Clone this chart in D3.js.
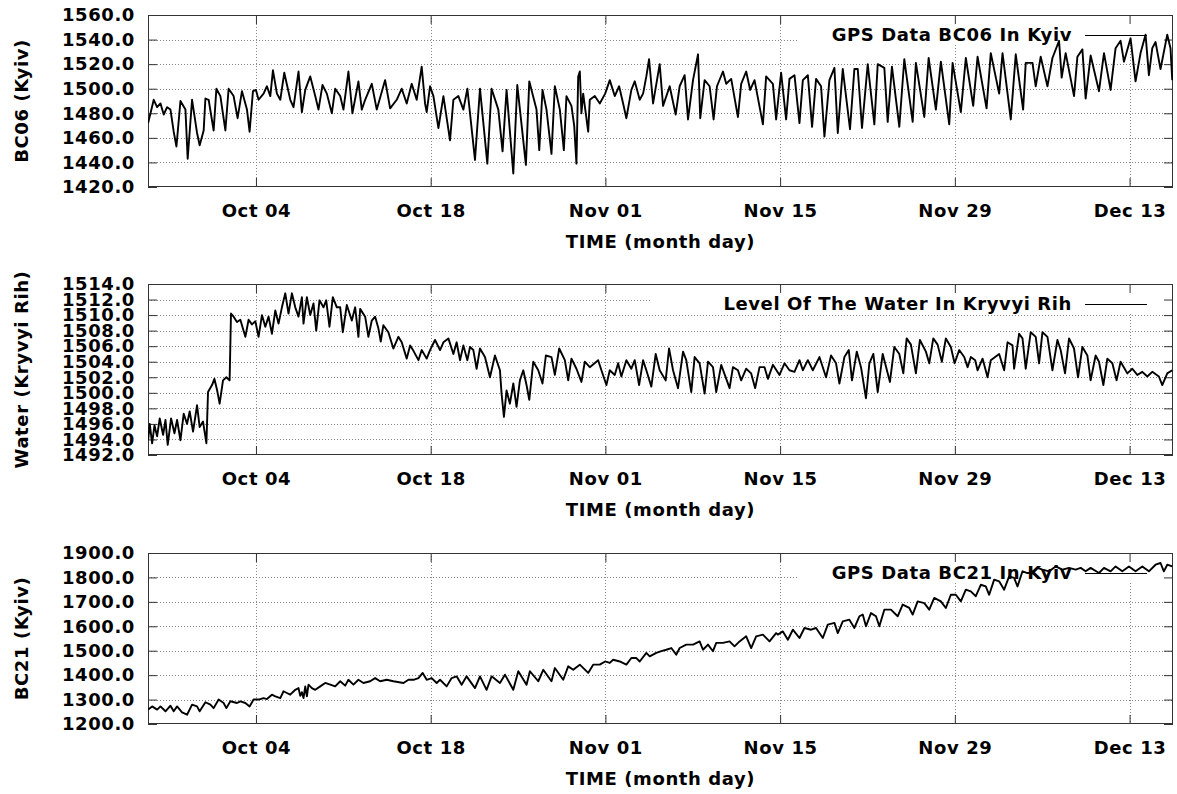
<!DOCTYPE html>
<html>
<head>
<meta charset="utf-8">
<script src="https://cdnjs.cloudflare.com/ajax/libs/d3/7.8.5/d3.min.js"></script>
<style>
  body { margin: 0; background: #fff; }
  svg text { font-family: "DejaVu Sans", sans-serif; font-weight: bold; fill: #000; letter-spacing: 0.6px; }
</style>
</head>
<body>
<script>
// x values are days since Sep 25 00:00 (UTC)
const start = Date.UTC(2021, 8, 25);
const shownDays = [0.35, 82.48];
const timeTicks = ["2021-10-04", "2021-10-18", "2021-11-01", "2021-11-15", "2021-11-29", "2021-12-13"];

// [day, value] (daily peaks / dips)
const bc06 = [[0.36,1472],[0.81,1491],[1.08,1485],[1.35,1488],[1.61,1479],[1.88,1485],[2.15,1483],[2.41,1465],[2.63,1453],[2.95,1490],[3.35,1483],[3.53,1443],[3.88,1491],[4.28,1464],[4.49,1454],[4.81,1466],[4.95,1492],[5.21,1491],[5.61,1466],[5.83,1500],[6.15,1494],[6.55,1466],[6.81,1500],[7.21,1494],[7.53,1476],[7.88,1498],[8.28,1483],[8.49,1465],[8.76,1498],[9.00,1499],[9.21,1491],[9.61,1496],[9.88,1502],[10.15,1494],[10.36,1515],[10.68,1496],[10.95,1491],[11.27,1513],[11.75,1491],[12.01,1485],[12.41,1514],[12.68,1481],[12.95,1499],[13.35,1510],[13.75,1494],[14.01,1483],[14.33,1503],[14.68,1496],[15.08,1480],[15.35,1500],[15.75,1494],[16.01,1483],[16.41,1514],[16.73,1480],[17.21,1506],[17.48,1483],[17.75,1491],[18.28,1504],[18.68,1483],[19.35,1507],[19.75,1484],[20.28,1491],[20.68,1500],[21.08,1488],[21.48,1504],[21.88,1491],[22.28,1518],[22.55,1488],[22.68,1481],[22.95,1502],[23.22,1494],[23.62,1468],[24.02,1494],[24.55,1458],[24.82,1491],[25.22,1494],[25.62,1483],[25.94,1500],[26.55,1442],[26.95,1500],[27.54,1439],[27.88,1500],[28.42,1483],[28.76,1449],[29.08,1499],[29.62,1431],[29.94,1503],[30.63,1438],[30.90,1506],[31.48,1483],[31.70,1450],[31.96,1499],[32.28,1483],[32.68,1447],[32.95,1502],[33.35,1483],[33.67,1450],[33.88,1494],[34.28,1486],[34.50,1470],[34.68,1439],[34.82,1510],[34.95,1514],[35.08,1480],[35.22,1496],[35.62,1465],[35.75,1491],[36.15,1494],[36.55,1488],[36.98,1496],[37.35,1507],[37.75,1494],[38.10,1502],[38.42,1488],[38.68,1476],[39.08,1499],[39.35,1506],[39.75,1491],[40.02,1496],[40.28,1510],[40.50,1524],[40.82,1488],[41.35,1520],[41.62,1486],[42.15,1502],[42.63,1479],[42.95,1502],[43.35,1511],[43.62,1475],[44.02,1507],[44.42,1528],[44.60,1476],[44.95,1507],[45.35,1502],[45.67,1475],[45.94,1502],[46.42,1514],[46.68,1504],[47.08,1508],[47.62,1477],[47.88,1504],[48.28,1514],[48.60,1499],[48.95,1507],[49.62,1471],[49.88,1510],[50.42,1504],[50.68,1475],[51.08,1513],[51.48,1475],[51.75,1508],[52.15,1511],[52.55,1472],[52.82,1507],[53.22,1511],[53.56,1469],[53.88,1508],[54.28,1502],[54.55,1461],[54.95,1507],[55.35,1517],[55.62,1464],[56.02,1516],[56.60,1467],[56.95,1516],[57.22,1516],[57.56,1468],[58.02,1520],[58.55,1471],[58.82,1520],[59.35,1517],[59.62,1473],[59.96,1518],[60.55,1469],[60.95,1524],[61.62,1473],[61.88,1521],[62.55,1477],[62.90,1525],[63.48,1483],[63.88,1522],[64.55,1471],[64.82,1521],[65.48,1481],[65.88,1525],[66.47,1486],[66.82,1526],[67.54,1484],[67.88,1529],[68.55,1496],[68.82,1529],[69.48,1475],[69.88,1528],[70.47,1483],[70.68,1521],[71.22,1521],[71.48,1502],[71.88,1526],[72.42,1502],[72.82,1525],[73.35,1539],[73.56,1509],[73.88,1529],[74.55,1494],[74.82,1526],[75.22,1532],[75.48,1492],[75.88,1527],[76.55,1498],[76.95,1529],[77.48,1499],[77.88,1533],[78.28,1539],[78.55,1522],[79.08,1541],[79.48,1506],[79.88,1529],[80.28,1544],[80.55,1511],[80.82,1533],[81.08,1538],[81.48,1516],[82.02,1544],[82.28,1533],[82.42,1507]];

const water = [[0.36,1493.9],[0.49,1496.0],[0.68,1493.5],[0.87,1495.8],[1.08,1494.4],[1.29,1496.7],[1.56,1494.6],[1.75,1496.5],[1.93,1493.3],[2.20,1496.7],[2.47,1494.8],[2.68,1496.5],[2.95,1493.9],[3.21,1497.3],[3.48,1496.0],[3.69,1497.6],[3.96,1495.0],[4.28,1498.4],[4.49,1495.6],[4.76,1496.3],[5.03,1493.5],[5.16,1500.1],[5.48,1501.0],[5.67,1501.8],[5.88,1500.4],[6.09,1498.6],[6.36,1501.6],[6.63,1502.0],[6.89,1501.6],[7.00,1510.2],[7.21,1509.8],[7.48,1509.1],[7.75,1509.4],[8.15,1507.2],[8.41,1509.4],[8.68,1508.8],[8.95,1509.2],[9.21,1507.2],[9.48,1510.0],[9.75,1508.5],[10.01,1509.8],[10.28,1507.6],[10.55,1510.6],[10.81,1508.9],[11.08,1511.0],[11.35,1512.8],[11.61,1510.2],[11.88,1512.8],[12.15,1511.0],[12.41,1509.8],[12.68,1512.3],[12.81,1508.9],[13.08,1512.3],[13.35,1510.0],[13.61,1511.5],[13.83,1508.0],[14.09,1511.9],[14.41,1511.0],[14.63,1511.9],[14.89,1508.5],[15.16,1512.3],[15.48,1511.0],[15.75,1511.0],[15.96,1507.8],[16.28,1511.3],[16.68,1509.3],[16.95,1511.0],[17.21,1507.2],[17.35,1510.8],[17.75,1509.8],[18.01,1507.2],[18.28,1509.3],[18.55,1509.8],[18.81,1508.3],[19.00,1506.6],[19.21,1508.7],[19.61,1507.8],[20.01,1505.7],[20.41,1507.2],[20.68,1506.5],[21.08,1504.4],[21.35,1506.1],[21.62,1505.4],[22.02,1504.2],[22.28,1505.5],[22.68,1504.4],[22.95,1505.5],[23.35,1506.8],[23.75,1505.5],[24.02,1506.5],[24.42,1507.0],[24.82,1505.0],[25.08,1506.5],[25.35,1504.2],[25.62,1506.1],[25.94,1504.2],[26.15,1505.9],[26.42,1505.5],[26.68,1503.1],[26.95,1505.7],[27.35,1504.6],[27.75,1502.0],[28.15,1504.8],[28.55,1502.9],[28.68,1499.9],[28.87,1496.9],[29.08,1500.3],[29.35,1498.6],[29.62,1501.2],[29.88,1498.2],[30.15,1501.6],[30.42,1502.9],[30.68,1501.0],[30.90,1499.1],[31.22,1504.0],[31.62,1502.9],[31.96,1501.2],[32.23,1504.8],[32.68,1504.6],[32.95,1502.3],[33.30,1505.7],[33.75,1504.2],[34.02,1501.6],[34.28,1504.4],[34.68,1503.1],[35.08,1501.4],[35.35,1504.0],[35.75,1503.3],[36.42,1504.2],[36.68,1502.9],[37.08,1501.0],[37.35,1502.9],[37.75,1502.3],[38.02,1503.8],[38.28,1502.1],[38.68,1504.2],[39.08,1503.1],[39.35,1504.2],[39.70,1501.0],[40.02,1504.2],[40.28,1502.9],[40.68,1500.8],[41.03,1505.0],[41.35,1502.9],[41.83,1501.6],[42.10,1505.7],[42.42,1502.9],[42.82,1500.6],[43.22,1505.3],[43.48,1504.2],[43.88,1500.1],[44.15,1504.6],[44.55,1503.8],[44.95,1499.9],[45.22,1504.0],[45.62,1503.3],[45.88,1500.1],[46.28,1503.6],[46.95,1500.6],[47.22,1503.3],[47.62,1502.9],[47.88,1501.6],[48.28,1503.1],[48.68,1502.5],[49.00,1500.6],[49.35,1503.3],[49.75,1503.3],[50.02,1501.8],[50.42,1503.6],[50.95,1502.3],[51.35,1503.8],[51.75,1502.9],[52.15,1502.7],[52.55,1504.2],[52.82,1502.9],[53.22,1504.2],[53.62,1502.9],[54.15,1504.6],[54.68,1502.0],[55.08,1504.8],[55.48,1503.8],[55.75,1501.2],[56.15,1504.6],[56.50,1505.5],[56.76,1501.6],[57.14,1505.3],[57.48,1503.3],[57.88,1499.3],[58.15,1503.8],[58.47,1505.0],[58.82,1500.1],[59.22,1505.0],[59.80,1501.4],[60.15,1505.9],[60.55,1505.0],[60.87,1502.5],[61.14,1507.0],[61.48,1506.2],[61.88,1502.5],[62.20,1506.8],[62.68,1505.3],[62.95,1503.8],[63.27,1507.0],[63.62,1506.2],[63.96,1504.0],[64.28,1507.0],[64.68,1505.9],[64.98,1503.8],[65.35,1505.5],[65.75,1504.6],[66.02,1503.3],[66.28,1504.6],[66.63,1504.2],[66.82,1502.9],[67.22,1504.4],[67.62,1502.0],[67.88,1504.2],[68.55,1505.0],[68.95,1502.9],[69.22,1506.5],[69.62,1506.1],[69.75,1503.1],[70.15,1507.6],[70.42,1507.0],[70.68,1503.1],[71.08,1507.8],[71.48,1507.2],[71.75,1503.8],[72.02,1507.8],[72.42,1507.2],[72.82,1502.9],[73.22,1506.8],[73.48,1505.5],[73.83,1502.5],[74.15,1507.0],[74.55,1505.7],[74.87,1502.0],[75.22,1505.9],[75.62,1504.8],[75.88,1501.6],[76.28,1504.8],[76.55,1504.0],[76.90,1501.0],[77.22,1504.4],[77.62,1503.8],[77.96,1501.6],[78.28,1504.0],[78.82,1502.5],[79.22,1503.1],[79.62,1502.3],[80.02,1502.7],[80.42,1502.1],[80.82,1502.7],[81.35,1502.1],[81.62,1501.0],[82.02,1502.5],[82.42,1502.9]];

const bc21 = [[0.36,1259],[0.68,1272],[1.08,1259],[1.35,1272],[1.75,1252],[2.15,1275],[2.41,1252],[2.68,1272],[3.08,1248],[3.48,1238],[3.88,1279],[4.28,1272],[4.49,1252],[4.95,1289],[5.35,1279],[5.61,1265],[6.01,1300],[6.41,1286],[6.63,1265],[6.95,1293],[7.48,1286],[7.75,1293],[8.15,1286],[8.49,1272],[8.81,1300],[9.21,1300],[9.61,1306],[9.88,1302],[10.28,1320],[10.55,1313],[10.95,1306],[11.21,1334],[11.48,1327],[11.75,1320],[12.15,1340],[12.41,1347],[12.55,1315],[12.68,1330],[12.81,1306],[12.95,1354],[13.08,1313],[13.21,1361],[13.48,1347],[13.75,1340],[14.15,1354],[14.55,1368],[14.95,1361],[15.35,1354],[15.75,1375],[16.15,1357],[16.41,1381],[16.81,1361],[17.21,1381],[17.61,1368],[18.15,1375],[18.55,1388],[18.95,1375],[19.48,1381],[20.01,1375],[20.82,1368],[21.22,1381],[21.62,1381],[22.02,1388],[22.36,1409],[22.68,1381],[23.08,1388],[23.48,1368],[23.75,1381],[24.28,1354],[24.68,1388],[25.08,1395],[25.48,1361],[25.88,1395],[26.55,1347],[26.95,1395],[27.48,1340],[27.88,1395],[28.55,1368],[28.95,1402],[29.62,1340],[30.02,1416],[30.68,1361],[30.95,1416],[31.62,1375],[32.02,1422],[32.68,1375],[32.95,1429],[33.62,1381],[34.02,1436],[34.42,1422],[34.95,1443],[35.62,1409],[36.02,1443],[36.55,1443],[36.98,1456],[37.35,1450],[37.62,1463],[38.15,1456],[38.68,1443],[39.08,1470],[39.48,1470],[39.75,1456],[40.28,1491],[40.55,1477],[41.08,1491],[41.48,1498],[41.88,1504],[42.28,1511],[42.68,1484],[42.95,1511],[43.48,1525],[44.02,1525],[44.55,1538],[44.82,1504],[45.22,1525],[45.62,1498],[45.88,1532],[46.42,1532],[46.95,1538],[47.35,1518],[47.75,1538],[48.28,1559],[48.68,1511],[49.08,1559],[49.62,1566],[50.15,1538],[50.68,1572],[50.82,1566],[51.22,1579],[51.62,1545],[52.02,1586],[52.55,1552],[52.95,1593],[53.48,1586],[53.88,1593],[54.42,1552],[54.82,1607],[55.35,1614],[55.62,1572],[56.02,1620],[56.55,1627],[56.95,1593],[57.35,1641],[57.62,1648],[57.88,1600],[58.28,1654],[58.68,1641],[58.95,1600],[59.35,1668],[59.88,1668],[60.42,1641],[60.82,1689],[61.35,1675],[61.62,1648],[62.02,1702],[62.55,1695],[62.95,1668],[63.35,1716],[63.88,1702],[64.28,1675],[64.68,1729],[65.08,1729],[65.48,1702],[65.88,1750],[66.28,1743],[66.68,1723],[67.08,1770],[67.48,1763],[67.75,1729],[68.15,1791],[68.55,1784],[68.95,1750],[69.35,1804],[69.75,1798],[70.02,1763],[70.42,1825],[70.82,1818],[71.22,1818],[71.62,1839],[72.02,1832],[72.55,1825],[73.08,1845],[73.62,1832],[74.15,1839],[74.68,1832],[75.08,1839],[75.48,1825],[75.88,1839],[76.55,1818],[76.95,1839],[77.48,1825],[77.88,1845],[78.42,1825],[78.95,1845],[79.48,1825],[80.02,1845],[80.55,1825],[81.08,1852],[81.48,1859],[81.75,1825],[82.02,1852],[82.42,1845]];

const panels = [
  { data: bc06,  yDomain: [1420, 1560], yStep: 20,  top: 15,  bottom: 187, yTitle: "BC06 (Kyiv)",        key: "GPS Data BC06 In Kyiv",            keyLeft: 798 },
  { data: water, yDomain: [1492, 1514], yStep: 2,   top: 284, bottom: 455, yTitle: "Water (Kryvyi Rih)", key: "Level Of The Water In Kryvyi Rih", keyLeft: 650 },
  { data: bc21,  yDomain: [1200, 1900], yStep: 100, top: 553, bottom: 724, yTitle: "BC21 (Kyiv)",        key: "GPS Data BC21 In Kyiv",            keyLeft: 798 }
];

const width = 1177, height = 794;
const left = 148, right = 1173;
const toDate = d => new Date(start + d * 864e5);

const svg = d3.select("body").append("svg")
  .attr("width", width)
  .attr("height", height);

const x = d3.scaleUtc()
  .domain(shownDays.map(toDate))
  .range([left, right]);
const xTicks = timeTicks.map(s => new Date(s + "T00:00:00Z"));

panels.forEach((p, i) => {
  const y = d3.scaleLinear().domain(p.yDomain).range([p.bottom, p.top]);
  const yTicks = d3.range(p.yDomain[0], p.yDomain[1] + p.yStep / 2, p.yStep);
  const g = svg.append("g");

  // dotted grid
  g.append("g").selectAll("line").data(yTicks.slice(1, -1)).join("line")
    .attr("x1", left).attr("x2", right)
    .attr("y1", d => Math.round(y(d)) + 0.5).attr("y2", d => Math.round(y(d)) + 0.5)
    .attr("stroke", "#888").attr("stroke-dasharray", "1,2");
  g.append("g").selectAll("line").data(xTicks).join("line")
    .attr("x1", d => Math.round(x(d)) + 0.5).attr("x2", d => Math.round(x(d)) + 0.5)
    .attr("y1", p.top).attr("y2", p.bottom)
    .attr("stroke", "#888").attr("stroke-dasharray", "1,2");

  // opaque key box
  g.append("rect")
    .attr("x", p.keyLeft).attr("y", p.top + 1)
    .attr("width", right - p.keyLeft - 1).attr("height", 28)
    .attr("fill", "#fff");

  // axes (inward ticks, mirrored)
  const yl = g.append("g").attr("transform", `translate(${left},0)`)
    .call(d3.axisLeft(y).tickValues(yTicks).tickFormat(d3.format(".1f"))
      .tickSizeInner(-9).tickSizeOuter(0).tickPadding(13));
  const yr = g.append("g").attr("transform", `translate(${right},0)`)
    .call(d3.axisRight(y).tickValues(yTicks).tickFormat("")
      .tickSizeInner(-9).tickSizeOuter(0));
  const xb = g.append("g").attr("transform", `translate(0,${p.bottom})`)
    .call(d3.axisBottom(x).tickValues(xTicks).tickFormat(d3.utcFormat("%b %d"))
      .tickSizeInner(-9).tickSizeOuter(0).tickPadding(17));
  const xt = g.append("g").attr("transform", `translate(0,${p.top})`)
    .call(d3.axisTop(x).tickValues(xTicks).tickFormat("")
      .tickSizeInner(-9).tickSizeOuter(0));
  [yl, yr, xb, xt].forEach(a => {
    a.attr("font-family", null).attr("font-size", null);
    a.select(".domain").remove();
    a.selectAll("line").attr("stroke", "#333");
    a.selectAll("text").style("font-size", "18px");
  });

  // frame
  g.append("rect")
    .attr("x", left + 0.5).attr("y", p.top + 0.5)
    .attr("width", right - left - 1).attr("height", p.bottom - p.top - 1)
    .attr("fill", "none").attr("stroke", "#333");

  // axis titles
  g.append("text")
    .attr("transform", `translate(28,${(p.top + p.bottom) / 2}) rotate(-90)`)
    .attr("text-anchor", "middle").style("font-size", "18px")
    .text(p.yTitle);
  g.append("text")
    .attr("x", (left + right) / 2).attr("y", p.bottom + 61)
    .attr("text-anchor", "middle").style("font-size", "18px")
    .text("TIME (month day)");

  // key
  g.append("text")
    .attr("x", 1072).attr("y", p.top + 26)
    .attr("text-anchor", "end").style("font-size", "18px")
    .text(p.key);
  g.append("line")
    .attr("x1", 1085).attr("x2", 1147)
    .attr("y1", p.top + 20.5).attr("y2", p.top + 20.5)
    .attr("stroke", "#000").attr("stroke-width", 1.2);

  // data
  const clipId = "clip" + i;
  g.append("clipPath").attr("id", clipId).append("rect")
    .attr("x", left).attr("y", p.top)
    .attr("width", right - left).attr("height", p.bottom - p.top);
  g.append("path")
    .datum(p.data)
    .attr("clip-path", `url(#${clipId})`)
    .attr("fill", "none")
    .attr("stroke", "#000")
    .attr("stroke-width", 1.9)
    .attr("stroke-linejoin", "round")
    .attr("d", d3.line().x(d => x(toDate(d[0]))).y(d => y(d[1])));
});
</script>
</body>
</html>
